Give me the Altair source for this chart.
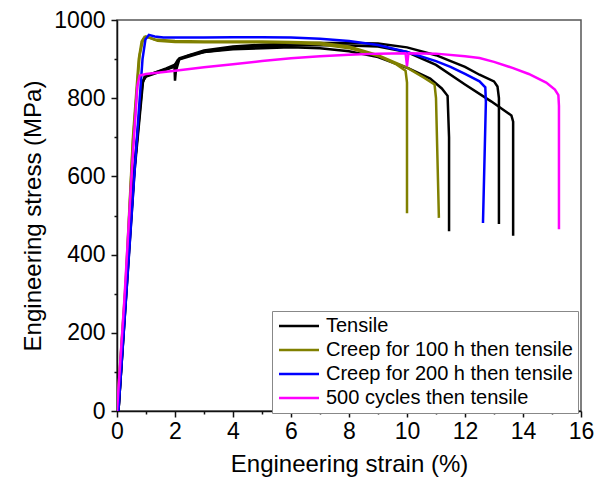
import altair as alt
import pandas as pd

series_names = ["Tensile", "Creep for 100 h then tensile",
                "Creep for 200 h then tensile", "500 cycles then tensile"]
series_colors = ["#000000", "#808000", "#0000FF", "#FF00FF"]

# Tensile curve 1 (with yield dip)
t1_strain = [0.05, 0.3, 0.6, 0.85, 0.95, 1.3, 1.7, 1.98, 2.0, 2.03, 2.15, 2.5, 3, 4, 5, 6, 7, 8, 9, 10, 10.8, 11.2, 11.4, 11.45, 11.45]
t1_stress = [0, 300, 620, 830, 855, 865, 876, 885, 845, 870, 900, 910, 918, 925, 928, 930, 928, 920, 905, 878, 850, 825, 806, 700, 460]
# Tensile curve 2
t2_strain = [0.05, 0.6, 0.88, 1.0, 1.5, 2.0, 2.15, 3, 4, 5, 6, 7, 8, 9, 10, 11, 11.4, 12, 12.5, 13.0, 13.12, 13.17, 13.17]
t2_stress = [0, 620, 840, 858, 870, 882, 902, 922, 932, 937, 940, 941, 941, 940, 930, 910, 898, 880, 860, 843, 830, 800, 478]
# Tensile curve 3
t3_strain = [0.05, 0.6, 0.9, 1.0, 1.5, 1.95, 2.1, 3, 4, 5, 6, 7, 8, 9, 10, 11, 12, 12.9, 13.6, 13.66, 13.66]
t3_stress = [0, 610, 845, 855, 868, 880, 898, 918, 928, 933, 935, 936, 935, 932, 918, 885, 835, 792, 756, 740, 448]
# Creep 100 h, curve 1
c1a_strain = [0, 0.3, 0.55, 0.75, 0.85, 0.95, 1.1, 1.4, 2, 3, 4, 5, 6, 7, 8, 9, 9.6, 9.95, 10.0, 10.0]
c1a_stress = [0, 330, 700, 900, 945, 957, 955, 947, 944, 943, 943, 943, 942, 938, 928, 908, 888, 870, 840, 506]
# Creep 100 h, curve 2
c1b_strain = [0, 0.3, 0.55, 0.78, 0.9, 1.0, 1.3, 2, 3, 5, 6, 7, 8, 9, 10, 10.6, 10.95, 11.0, 11.1]
c1b_stress = [0, 320, 690, 910, 950, 958, 950, 946, 945, 945, 944, 942, 932, 910, 878, 852, 835, 800, 494]
# Creep 200 h
c2_strain = [0.05, 0.35, 0.65, 0.88, 0.98, 1.1, 1.3, 1.6, 2, 3, 4, 5, 6, 7, 8, 9, 10, 11, 11.5, 12, 12.5, 12.7, 12.72, 12.62]
c2_stress = [0, 330, 660, 900, 950, 962, 958, 955, 955, 955, 956, 956, 955, 952, 946, 936, 918, 895, 880, 862, 843, 828, 790, 481]
# 500 cycles
cy_strain = [0, 0.25, 0.5, 0.7, 0.78, 1.0, 2, 3, 4, 5, 6, 7, 8, 9, 9.95, 10.0, 10.05, 11, 12, 12.5, 13, 13.66, 14.2, 14.8, 15.1, 15.22, 15.24, 15.24]
cy_stress = [0, 280, 600, 830, 858, 862, 870, 879, 887, 895, 902, 907, 911, 914, 915, 882, 915, 914, 907, 903, 893, 877, 862, 840, 822, 808, 780, 465]

curves = [
    ("Tensile", "T1", t1_strain, t1_stress),
    ("Tensile", "T2", t2_strain, t2_stress),
    ("Tensile", "T3", t3_strain, t3_stress),
    ("Creep for 100 h then tensile", "C1a", c1a_strain, c1a_stress),
    ("Creep for 100 h then tensile", "C1b", c1b_strain, c1b_stress),
    ("Creep for 200 h then tensile", "C2", c2_strain, c2_stress),
    ("500 cycles then tensile", "CY", cy_strain, cy_stress),
]

rows = []
for series, cid, xs, ys in curves:
    for i, (x, y) in enumerate(zip(xs, ys)):
        rows.append({"series": series, "curve": cid, "i": i, "strain": x, "stress": y})
df = pd.DataFrame(rows)

x_tick_values = list(range(0, 17))
y_tick_values = list(range(0, 1001, 100))

FONT = "Liberation Sans"

x_axis = alt.Axis(
    values=x_tick_values,
    title="Engineering strain (%)",
    format="d",
    labelExpr="datum.value % 2 == 0 ? datum.label : ''",
    labelOverlap=False,
    labelFlush=False,
    tickSize={"condition": {"test": "datum.value % 2 != 0", "value": 3}, "value": 6},
    grid=False,
    labelFontSize=23, titleFontSize=24, labelFont=FONT, titleFont=FONT,
    titleFontWeight="normal", labelColor="black", titleColor="black",
    domainColor="#111", tickColor="#111", domainWidth=1.5, tickWidth=1.5,
    labelPadding=3, titlePadding=9,
)
y_axis = alt.Axis(
    values=y_tick_values,
    title="Engineering stress (MPa)",
    format="d",
    labelExpr="datum.value % 200 == 0 ? datum.label : ''",
    labelOverlap=False,
    labelFlush=False,
    tickSize={"condition": {"test": "datum.value % 200 != 0", "value": 3}, "value": 6},
    grid=False,
    labelFontSize=23, titleFontSize=24, labelFont=FONT, titleFont=FONT,
    titleFontWeight="normal", labelColor="black", titleColor="black",
    domainColor="#111", tickColor="#111", domainWidth=1.5, tickWidth=1.5,
    labelPadding=6, titlePadding=8,
)

legend = alt.Legend(
    title=None, orient="none", legendX=155, legendY=291,
    symbolType="M-2.5,0H2.5", symbolSize=256, symbolStrokeWidth=2.5,
    symbolOffset=12,
    labelFontSize=20, labelFont=FONT, labelColor="black", labelLimit=0,
    labelOffset=17, rowPadding=4, padding=5,
    strokeColor="#888", fillColor="white", cornerRadius=0,
)

chart = alt.Chart(df).mark_line(strokeWidth=2.5, clip=True).encode(
    x=alt.X("strain:Q", scale=alt.Scale(domain=[0, 16], nice=False, zero=False), axis=x_axis),
    y=alt.Y("stress:Q", scale=alt.Scale(domain=[0, 1000], nice=False), axis=y_axis),
    color=alt.Color("series:N", scale=alt.Scale(domain=series_names, range=series_colors), legend=legend),
    detail="curve:N",
    order="i:Q",
).properties(
    width=464, height=391,
    padding={"left": 109, "top": 12, "right": 17, "bottom": 68},
    autosize=alt.AutoSizeParams(type="none"),
).configure_view(stroke="#555", strokeWidth=1.5)

chart.save("out.html", embed_options={"renderer": "svg", "actions": False})
